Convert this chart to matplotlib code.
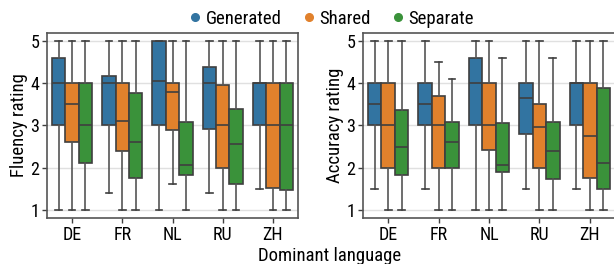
import matplotlib

matplotlib.use("Agg")
import matplotlib.pyplot as plt
from matplotlib import font_manager
from matplotlib.lines import Line2D

# pick a condensed font if there is one
available = {f.name for f in font_manager.fontManager.ttflist}
for fam in ["Roboto Condensed", "Liberation Sans Narrow", "Roboto"]:
    if fam in available:
        plt.rcParams["font.family"] = [fam, "DejaVu Sans"]
        break

languages = ["DE", "FR", "NL", "RU", "ZH"]
systems = ["Generated", "Shared", "Separate"]
colors = ["#3274a1", "#e1812c", "#3a923a"]

# box stats per system: (q1, median, q3, whisker low, whisker high), one per language
fluency = {
    "Generated": [(3.0, 4.0, 4.6, 1.0, 5.0), (3.02, 4.0, 4.17, 1.4, 5.0), (3.02, 4.05, 5.0, 1.0, 5.0),
                  (2.92, 4.0, 4.38, 1.4, 5.0), (3.0, 4.0, 4.0, 1.5, 5.0)],
    "Shared": [(2.6, 3.5, 4.0, 1.0, 5.0), (2.4, 3.1, 4.0, 1.0, 5.0), (2.9, 3.8, 4.0, 1.6, 5.0),
               (2.0, 3.0, 3.97, 1.0, 5.0), (1.52, 3.0, 4.0, 1.0, 5.0)],
    "Separate": [(2.1, 3.0, 4.0, 1.0, 5.0), (1.75, 2.6, 3.77, 1.0, 5.0), (1.83, 2.05, 3.08, 1.0, 5.0),
                 (1.6, 2.55, 3.4, 1.0, 5.0), (1.47, 3.0, 4.0, 1.0, 5.0)],
}
accuracy = {
    "Generated": [(3.0, 3.5, 4.0, 1.5, 5.0), (3.0, 3.5, 4.0, 1.5, 5.0), (3.0, 4.0, 4.6, 1.0, 5.0),
                  (2.8, 3.66, 4.0, 1.5, 5.0), (3.0, 4.0, 4.0, 1.5, 5.0)],
    "Shared": [(2.0, 3.0, 4.0, 1.0, 5.0), (2.0, 3.0, 3.7, 1.0, 4.5), (2.42, 3.0, 4.0, 1.0, 5.0),
               (2.0, 2.96, 3.5, 1.0, 5.0), (1.76, 2.76, 4.0, 1.0, 5.0)],
    "Separate": [(1.83, 2.5, 3.38, 1.0, 5.0), (2.0, 2.6, 3.09, 1.0, 4.1), (1.9, 2.05, 3.07, 1.0, 4.6),
                 (1.72, 2.4, 3.09, 1.0, 4.6), (1.5, 2.1, 3.9, 1.0, 5.0)],
}

line_color = "#3f3f3f"
box_w = 0.8 / 3


def draw(ax, data, ylabel):
    for i, system in enumerate(systems):
        stats = [
            {"q1": q1, "med": med, "q3": q3, "whislo": lo, "whishi": hi, "fliers": []}
            for (q1, med, q3, lo, hi) in data[system]
        ]
        positions = [x + (i - 1) * box_w for x in range(len(languages))]
        ax.bxp(
            stats,
            positions=positions,
            widths=box_w,
            capwidths=box_w / 2,
            patch_artist=True,
            showfliers=False,
            boxprops=dict(facecolor=colors[i], edgecolor=line_color, linewidth=1.2),
            medianprops=dict(color=line_color, linewidth=1.2),
            whiskerprops=dict(color="#555555", linewidth=1.2),
            capprops=dict(color=line_color, linewidth=1.2),
            manage_ticks=False,
            zorder=2,
        )
    ax.set_xlim(-0.5, len(languages) - 0.5)
    ax.set_ylim(0.8, 5.2)
    ax.set_xticks(range(len(languages)))
    ax.set_xticklabels(languages)
    ax.set_yticks([1, 2, 3, 4, 5])
    ax.set_ylabel(ylabel, fontsize=13.5, labelpad=2)
    ax.tick_params(labelsize=13, length=3.5, width=1, color=line_color, pad=2)
    ax.grid(axis="y", color="#e0e0e0", linewidth=1)
    ax.set_axisbelow(True)
    for sp in ax.spines.values():
        sp.set_color("#555555")
        sp.set_linewidth(1.2)


fig = plt.figure(figsize=(6.14, 2.64), dpi=100)
ax1 = fig.add_axes([47 / 614, 46 / 264, 251 / 614, 185 / 264])
ax2 = fig.add_axes([363 / 614, 46 / 264, 252 / 614, 185 / 264])
draw(ax1, fluency, "Fluency rating")
draw(ax2, accuracy, "Accuracy rating")

fig.text(330 / 614, 3 / 264, "Dominant language", ha="center", va="baseline", fontsize=13.5)

handles = [
    Line2D([], [], marker="o", linestyle="", markersize=5.5, markerfacecolor=c, markeredgecolor=c, label=s)
    for s, c in zip(systems, colors)
]
fig.legend(
    handles=handles,
    loc="center",
    bbox_to_anchor=(331 / 614, 1 - 19 / 264),
    ncol=3,
    frameon=False,
    fontsize=13.5,
    handlelength=0.7,
    handletextpad=0.2,
    columnspacing=1.1,
    borderaxespad=0,
    borderpad=0,
)

fig.savefig("out.png", dpi=100)
